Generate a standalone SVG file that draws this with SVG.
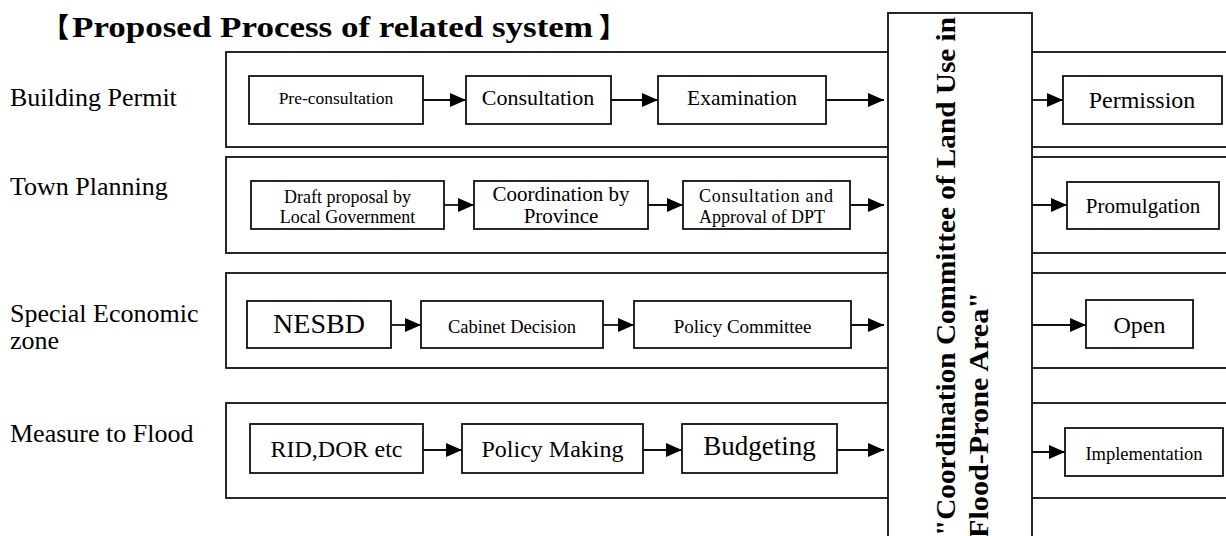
<svg xmlns="http://www.w3.org/2000/svg" width="1226" height="536" viewBox="0 0 1226 536">
  <style>
    .lane { fill: #fff; stroke: #111; stroke-width: 1.8; }
    .box { fill: #fff; stroke: #111; stroke-width: 1.8; }
    .t { font-family: "Liberation Serif", "Times New Roman", serif; fill: #000; }
    .c { text-anchor: middle; }
    .lbl { font-family: "Liberation Serif", "Times New Roman", serif; font-size: 26px; fill: #000; }
    .bold { font-family: "Liberation Serif", "Noto Sans CJK JP", serif; font-weight: bold; fill: #000; }
    .cjk { font-family: "Noto Sans CJK JP", sans-serif; font-weight: 900; }
    .flow { stroke: #111; stroke-width: 1.8; fill: none; marker-end: url(#head); }
  </style>
  <defs>
    <marker id="head" markerUnits="userSpaceOnUse" markerWidth="16" markerHeight="14" refX="16" refY="7" orient="auto">
      <path d="M0,0 L16,7 L0,14 z" fill="#000"/>
    </marker>
  </defs>

  <rect width="1226" height="536" fill="#fff"/>

  <!-- heading -->
  <g id="heading">
    <text class="bold" font-size="29" y="37"><tspan class="cjk" x="42" font-size="27">【</tspan><tspan x="72" textLength="521" lengthAdjust="spacingAndGlyphs">Proposed Process of related system</tspan><tspan class="cjk" x="599" font-size="27">】</tspan></text>
  </g>

  <!-- lane captions -->
  <g id="captions">
    <text class="lbl" x="10" y="106">Building Permit</text>
    <text class="lbl" x="10" y="195">Town Planning</text>
    <text class="lbl" x="10" y="322">Special Economic</text>
    <text class="lbl" x="10" y="349">zone</text>
    <text class="lbl" x="10" y="442">Measure to Flood</text>
  </g>

  <!-- lanes (run off the right edge) -->
  <g id="lanes">
    <rect id="lane-building" class="lane" x="226" y="52" width="1060" height="95"/>
    <rect id="lane-town" class="lane" x="226" y="157" width="1060" height="96"/>
    <rect id="lane-sez" class="lane" x="226" y="273" width="1060" height="95"/>
    <rect id="lane-flood" class="lane" x="226" y="403" width="1060" height="95"/>
  </g>

  <!-- central committee column -->
  <g id="committee">
    <rect class="box" x="888" y="13" width="144" height="540"/>
    <text class="bold" font-size="27" transform="translate(955,536) rotate(-90)" textLength="519" lengthAdjust="spacingAndGlyphs">"Coordination Committee of Land Use in</text>
    <text class="bold" font-size="27" transform="translate(988,538) rotate(-90)" textLength="246" lengthAdjust="spacingAndGlyphs">Flood-Prone Area"</text>
  </g>

  <!-- Building Permit -->
  <g id="pre-consultation">
    <rect class="box" x="249" y="76" width="174" height="48"/>
    <text class="t c" x="336" y="104" font-size="17.5">Pre-consultation</text>
  </g>
  <g id="consultation">
    <rect class="box" x="466" y="76" width="145" height="48"/>
    <text class="t c" x="538" y="105" font-size="22">Consultation</text>
  </g>
  <g id="examination">
    <rect class="box" x="658" y="76" width="168" height="48"/>
    <text class="t c" x="742" y="105" font-size="21.5">Examination</text>
  </g>
  <g id="permission">
    <rect class="box" x="1063" y="76" width="159" height="48"/>
    <text class="t c" x="1142" y="108" font-size="24">Permission</text>
  </g>

  <!-- Town Planning -->
  <g id="draft-proposal">
    <rect class="box" x="251" y="181" width="193" height="48"/>
    <text class="t c" x="347.5" y="203" font-size="18">Draft proposal by</text>
    <text class="t c" x="347.5" y="223" font-size="18">Local Government</text>
  </g>
  <g id="coordination-province">
    <rect class="box" x="474" y="181" width="174" height="48"/>
    <text class="t c" x="561" y="201" font-size="21">Coordination by</text>
    <text class="t c" x="561" y="223" font-size="21">Province</text>
  </g>
  <g id="approval-dpt">
    <rect class="box" x="683" y="181" width="167" height="48"/>
    <text class="t" x="699" y="202" font-size="18" textLength="134" lengthAdjust="spacing">Consultation and</text>
    <text class="t" x="699" y="223" font-size="18">Approval of DPT</text>
  </g>
  <g id="promulgation">
    <rect class="box" x="1067" y="182" width="152" height="47"/>
    <text class="t c" x="1143" y="213" font-size="21">Promulgation</text>
  </g>

  <!-- Special Economic zone -->
  <g id="nesbd">
    <rect class="box" x="247" y="301" width="144" height="47"/>
    <text class="t c" x="319" y="333" font-size="28">NESBD</text>
  </g>
  <g id="cabinet-decision">
    <rect class="box" x="421" y="301" width="182" height="47"/>
    <text class="t c" x="512" y="333" font-size="18.5">Cabinet Decision</text>
  </g>
  <g id="policy-committee">
    <rect class="box" x="634" y="301" width="217" height="47"/>
    <text class="t c" x="742.5" y="333" font-size="19">Policy Committee</text>
  </g>
  <g id="open">
    <rect class="box" x="1086" y="300" width="107" height="48"/>
    <text class="t c" x="1139.5" y="333" font-size="24">Open</text>
  </g>

  <!-- Measure to Flood -->
  <g id="rid-dor">
    <rect class="box" x="250" y="424" width="173" height="49"/>
    <text class="t c" x="336.5" y="457" font-size="24">RID,DOR etc</text>
  </g>
  <g id="policy-making">
    <rect class="box" x="462" y="424" width="181" height="49"/>
    <text class="t c" x="552.5" y="457" font-size="24">Policy Making</text>
  </g>
  <g id="budgeting">
    <rect class="box" x="682" y="424" width="155" height="49"/>
    <text class="t c" x="759.5" y="455" font-size="27">Budgeting</text>
  </g>
  <g id="implementation">
    <rect class="box" x="1065" y="428" width="158" height="48"/>
    <text class="t c" x="1144" y="460" font-size="18.5">Implementation</text>
  </g>

  <!-- connectors -->
  <g id="connectors">
    <line class="flow" x1="423" y1="100" x2="466" y2="100"/>
    <line class="flow" x1="611" y1="100" x2="658" y2="100"/>
    <line class="flow" x1="826" y1="100" x2="884" y2="100"/>
    <line class="flow" x1="1032" y1="100" x2="1063" y2="100"/>

    <line class="flow" x1="444" y1="205" x2="474" y2="205"/>
    <line class="flow" x1="648" y1="205" x2="683" y2="205"/>
    <line class="flow" x1="850" y1="205" x2="884" y2="205"/>
    <line class="flow" x1="1032" y1="205" x2="1067" y2="205"/>

    <line class="flow" x1="391" y1="325" x2="421" y2="325"/>
    <line class="flow" x1="603" y1="325" x2="634" y2="325"/>
    <line class="flow" x1="851" y1="325" x2="884" y2="325"/>
    <line class="flow" x1="1032" y1="325" x2="1086" y2="325"/>

    <line class="flow" x1="423" y1="450" x2="462" y2="450"/>
    <line class="flow" x1="643" y1="450" x2="682" y2="450"/>
    <line class="flow" x1="837" y1="450" x2="884" y2="450"/>
    <line class="flow" x1="1032" y1="452" x2="1065" y2="452"/>
  </g>
</svg>
